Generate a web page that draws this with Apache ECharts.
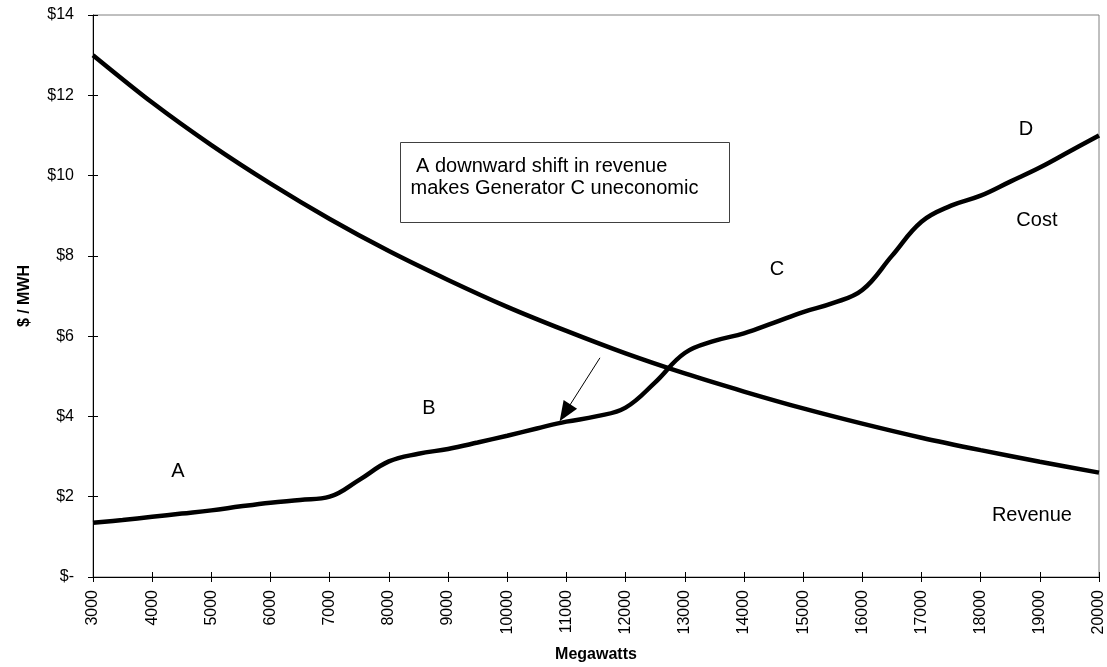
<!DOCTYPE html>
<html>
<head>
<meta charset="utf-8">
<script src="https://cdn.jsdelivr.net/npm/echarts@6/dist/echarts.min.js"></script>
<style>
html,body{margin:0;padding:0;background:#fff;}
#chart{width:1107px;height:667px;}
</style>
</head>
<body>
<div id="chart"></div>
<script>
// Megawatts (x values)
const megawatts = [3000,3500,4000,4500,5000,5500,6000,6500,7000,7500,8000,8500,9000,9500,10000,10500,11000,11500,12000,12500,13000,13500,14000,14500,15000,15500,16000,16500,17000,17500,18000,18500,19000,19500,20000];
// Cost curve ($/MWH) - ascending
const costValues = [1.35,1.42,1.50,1.58,1.66,1.76,1.85,1.92,2.00,2.42,2.88,3.07,3.19,3.35,3.52,3.70,3.87,4.00,4.22,4.85,5.58,5.88,6.07,6.33,6.60,6.82,7.15,8.00,8.85,9.25,9.50,9.85,10.20,10.60,11.00];
// Revenue curve ($/MWH) - descending
const revenueX = [3000,4000,5000,6000,7000,8000,9000,10000,11000,12000,13000,14000,15000,16000,17000,18000,19000,20000];
const revenueValues = [13.0,11.82,10.76,9.80,8.92,8.12,7.40,6.73,6.13,5.57,5.07,4.62,4.20,3.82,3.47,3.16,2.87,2.60];
// Curve labels
const curveLabels = ['A','B','C','D','Cost','Revenue'];
const curveLabelX = [4436,8678,14558,18765,18951,18867];
const curveLabelY = [2.64,4.21,7.65,11.14,8.87,1.54];
// Annotation arrow (data coords) and text
const arrowFrom = [11567,5.46];
const arrowTo = [10976,4.09];
const annotationLines = [' A downward shift in revenue','makes Generator C uneconomic'];
// Axis range
const xMin = 3000, xMax = 20000, xStep = 1000;
const yMin = 0, yMax = 14, yStep = 2;

const FONT = '"Liberation Sans", Arial, sans-serif';
const chart = echarts.init(document.getElementById('chart'), null, {renderer:'canvas'});

const costData = megawatts.map((x,i)=>[x,costValues[i]]);
const revData = revenueX.map((x,i)=>[x,revenueValues[i]]);
const labelData = curveLabels.map((t,i)=>({value:[curveLabelX[i],curveLabelY[i]],name:t}));

const yFmt = v => v === 0 ? '$-' : '$' + v;

chart.setOption({
  animation:false,
  backgroundColor:'#fff',
  textStyle:{fontFamily:FONT},
  grid:{left:93,right:8,top:15,bottom:90,containLabel:false,outerBoundsMode:'none',show:true,borderColor:'#808080',borderWidth:1,backgroundColor:'transparent'},
  xAxis:[{
    type:'value',min:xMin,max:xMax,interval:xStep,position:'bottom',
    name:'Megawatts',nameLocation:'middle',nameGap:70,
    nameTextStyle:{fontFamily:FONT,fontSize:16,fontWeight:'bold',color:'#000'},
    axisLine:{show:true,lineStyle:{color:'#000',width:1}},
    axisTick:{show:true,inside:false,length:5,lineStyle:{color:'#000'}},
    axisLabel:{rotate:90,margin:13,fontFamily:FONT,fontSize:16,color:'#000',formatter:v=>String(v)},
    splitLine:{show:false}
  },{
    type:'value',min:xMin,max:xMax,interval:xStep,position:'bottom',gridIndex:0,
    axisLine:{show:false},
    axisTick:{show:true,inside:true,length:5,lineStyle:{color:'#000'}},
    axisLabel:{show:false},splitLine:{show:false}
  }],
  yAxis:[{
    type:'value',min:yMin,max:yMax,interval:yStep,position:'left',
    name:'$ / MWH',nameLocation:'middle',nameGap:60,nameRotate:90,
    nameTextStyle:{fontFamily:FONT,fontSize:16,fontWeight:'bold',color:'#000'},
    axisLine:{show:true,lineStyle:{color:'#000',width:1}},
    axisTick:{show:true,inside:false,length:5,lineStyle:{color:'#000'}},
    axisLabel:{margin:19,fontFamily:FONT,fontSize:16,color:'#000',formatter:yFmt},
    splitLine:{show:false}
  },{
    type:'value',min:yMin,max:yMax,interval:yStep,position:'left',
    axisLine:{show:false},
    axisTick:{show:true,inside:true,length:5,lineStyle:{color:'#000'}},
    axisLabel:{show:false},splitLine:{show:false}
  }],
  series:[{
    name:'Cost',type:'line',data:costData,smooth:0.4,showSymbol:false,
    lineStyle:{color:'#000',width:4.5},z:3,
    markLine:{
      silent:true,symbol:['none','triangle'],symbolSize:[16,20],
      itemStyle:{color:'#000'},
      lineStyle:{color:'#000',width:1,type:'solid'},label:{show:false},
      data:[[{coord:arrowFrom},{coord:arrowTo}]]
    }
  },{
    name:'Revenue',type:'line',data:revData,smooth:0.3,showSymbol:false,
    lineStyle:{color:'#000',width:4.5},z:3
  },{
    name:'labels',type:'scatter',data:labelData,symbolSize:1,silent:true,
    itemStyle:{color:'rgba(0,0,0,0)'},
    label:{show:true,position:'inside',formatter:p=>p.name,fontFamily:FONT,fontSize:20,color:'#000',textBorderWidth:0,textBorderColor:'transparent',opacity:1}
  }],
  graphic:[{
    type:'group',left:400,top:142,
    children:[{
      type:'rect',shape:{x:0,y:0,width:329,height:80},
      style:{fill:'#fff',stroke:'#404040',lineWidth:1}
    },{
      type:'text',x:10,y:13,
      style:{text:annotationLines.join('\n'),font:'20px ' + FONT,fill:'#000',lineHeight:22}
    }]
  }]
});
</script>
</body>
</html>
